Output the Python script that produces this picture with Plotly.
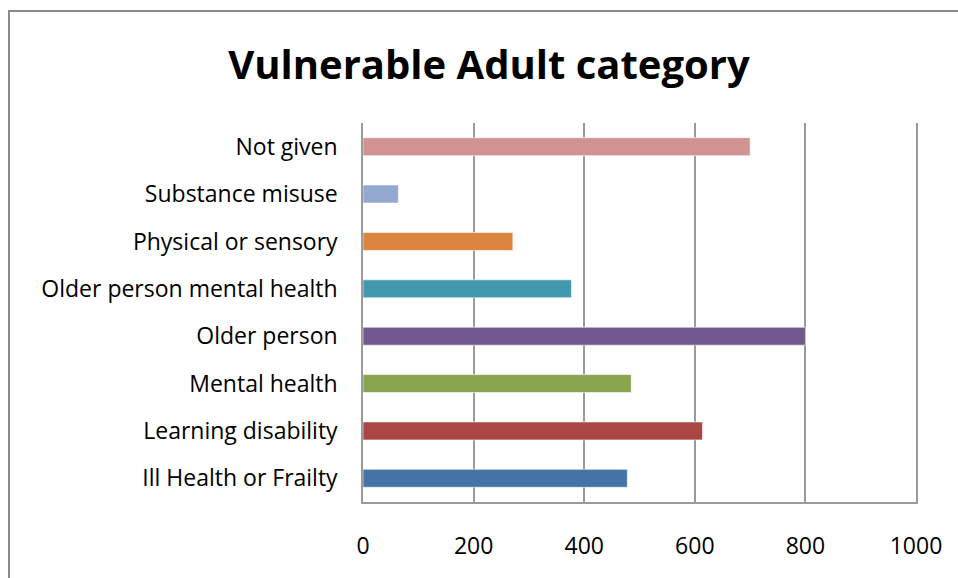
import plotly.graph_objects as go

categories = ["Ill Health or Frailty", "Learning disability", "Mental health", "Older person",
              "Older person mental health", "Physical or sensory", "Substance misuse", "Not given"]
values = [478, 614, 485, 800, 377, 271, 64, 700]
colors = ["#4572A7", "#AA4643", "#89A54E", "#71588F", "#4198AF", "#DB843D", "#93A9CF", "#D19392"]
x_ticks = [0, 200, 400, 600, 800, 1000]

W, H = 958, 578
L, R, T, B = 363, 916, 123, 502
pw, ph = R - L, B - T

fig = go.Figure(go.Bar(
    y=categories, x=values, orientation="h",
    marker=dict(color=colors, line=dict(color="rgba(255,255,255,0.6)", width=1)),
    showlegend=False, hoverinfo="x+y",
))

fig.update_layout(
    width=W, height=H,
    margin=dict(l=L, r=W - R, t=T, b=H - B, pad=0),
    paper_bgcolor="white", plot_bgcolor="white",
    bargap=0.62,
    title=dict(text="<b>Vulnerable Adult category</b>", x=489 / W, xanchor="center",
               y=1 - 65 / H, yanchor="middle", yref="container",
               font=dict(family="Open Sans", size=40, color="black")),
    font=dict(family="Open Sans", size=23, color="black"),
    xaxis=dict(range=[0, 1000], tickvals=x_ticks, ticktext=[str(v) for v in x_ticks],
               showgrid=True, gridcolor="#9a9a9a", gridwidth=1.5,
               showline=True, linecolor="#9a9a9a", linewidth=1.5, mirror=False,
               zeroline=False, ticks="", ticklabelstandoff=23,
               tickfont=dict(family="Open Sans", size=23, color="black")),
    yaxis=dict(categoryorder="array", categoryarray=categories,
               showgrid=False, showline=True, linecolor="#9a9a9a", linewidth=1.5,
               mirror=True, ticks="", ticklabelstandoff=19,
               tickfont=dict(family="Open Sans", size=23, color="black")),
    shapes=[dict(type="rect", xref="paper", yref="paper",
                 x0=(9 - L) / pw, x1=(W + 20 - L) / pw,
                 y0=(B - (H + 20)) / ph, y1=(B - 11) / ph,
                 line=dict(color="#8a8a8a", width=2), layer="below")],
)

fig.write_html("out.html")
